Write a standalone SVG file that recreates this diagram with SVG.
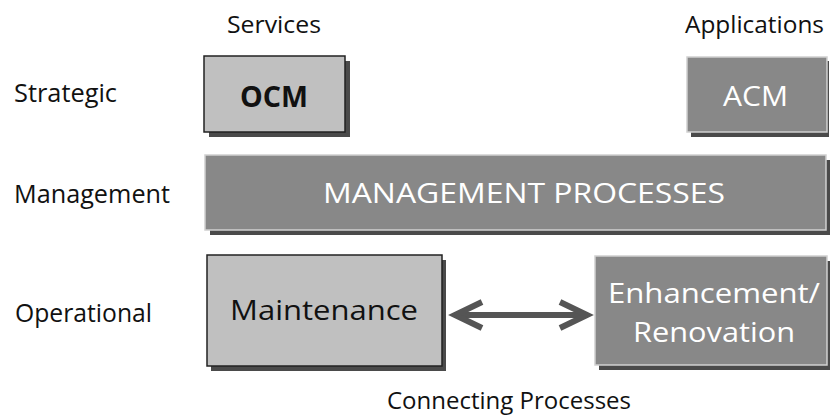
<svg xmlns="http://www.w3.org/2000/svg" width="830" height="416" viewBox="0 0 830 416">
<style>
text{font-family:"Open Sans","Noto Sans",sans-serif}
.lbl{font-size:26px;fill:#111}
.hdr{font-size:24px;fill:#111}
.light{fill:#c0c0c0;stroke:#222;stroke-width:1.5}
.dark{fill:#888888;stroke:#d0d0d0;stroke-width:1.5}
.sh{fill:#4a4a4a}
.tb{font-size:28px;text-anchor:middle}
.w{fill:#fff}
.k{fill:#111}
</style>
<rect width="830" height="416" fill="#fff"/>
<g id="headers">
<text class="hdr" x="227" y="33" textLength="94" lengthAdjust="spacingAndGlyphs">Services</text>
<text class="hdr" x="685" y="33" textLength="139" lengthAdjust="spacingAndGlyphs">Applications</text>
</g>
<g id="rows">
<text class="lbl" x="14" y="102" textLength="103" lengthAdjust="spacingAndGlyphs">Strategic</text>
<text class="lbl" x="14" y="203" textLength="156" lengthAdjust="spacingAndGlyphs">Management</text>
<text class="lbl" x="15" y="322" textLength="137" lengthAdjust="spacingAndGlyphs">Operational</text>
</g>
<g id="ocm">
<rect class="sh" x="209" y="61" width="141" height="76"/>
<rect class="light" x="204" y="56" width="141" height="76"/>
<text class="tb k" x="274" y="107" font-weight="bold" textLength="68" lengthAdjust="spacingAndGlyphs">OCM</text>
</g>
<g id="acm">
<rect class="sh" x="691" y="61" width="138" height="76"/>
<rect class="dark" x="687" y="57" width="140" height="75"/>
<text class="tb w" x="755.5" y="106" textLength="65" lengthAdjust="spacingAndGlyphs">ACM</text>
</g>
<g id="mgmt">
<rect class="sh" x="210" y="160" width="620" height="75"/>
<rect class="dark" x="205" y="155" width="621" height="75"/>
<text class="tb w" x="524" y="203" textLength="402" lengthAdjust="spacingAndGlyphs">MANAGEMENT PROCESSES</text>
</g>
<g id="maintenance">
<rect class="sh" x="211" y="260" width="235" height="111"/>
<rect class="light" x="207" y="255" width="235" height="111"/>
<text class="tb k" x="324" y="320" textLength="188" lengthAdjust="spacingAndGlyphs">Maintenance</text>
</g>
<g id="enhancement">
<rect class="sh" x="599" y="261" width="231" height="109"/>
<rect class="dark" x="595" y="256" width="232" height="109"/>
<text class="tb w" x="714" y="303" textLength="212" lengthAdjust="spacingAndGlyphs">Enhancement/</text>
<text class="tb w" x="714" y="342" textLength="162" lengthAdjust="spacingAndGlyphs">Renovation</text>
</g>
<g id="connectors" fill="none" stroke="#555" stroke-width="6" stroke-linejoin="miter" stroke-linecap="butt">
<line x1="456" y1="315" x2="586" y2="315"/>
<polyline points="482,302 455,315 482,328"/>
<polyline points="560,302 587,315 560,328"/>
</g>
<text class="hdr" x="387" y="409">Connecting Processes</text>
</svg>
